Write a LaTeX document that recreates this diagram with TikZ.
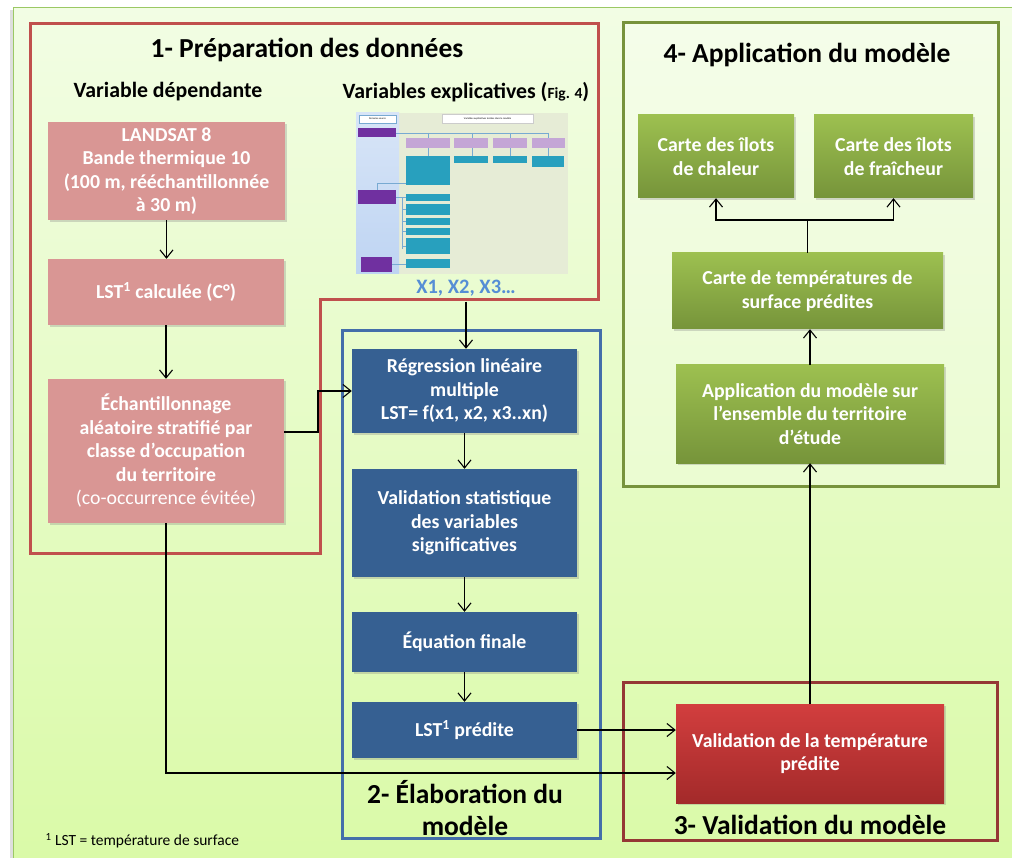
\documentclass[tikz,border=0pt]{standalone}
\usepackage{fontspec}
\setmainfont{Carlito}
\usetikzlibrary{shadows,arrows.meta,calc}
\definecolor{bgtop}{RGB}{242,253,228}
\definecolor{bgbot}{RGB}{218,250,168}
\definecolor{bgline}{RGB}{155,200,100}
\definecolor{pinkbox}{RGB}{217,150,148}
\definecolor{bluebox}{RGB}{54,96,146}
\definecolor{greentop}{RGB}{157,192,80}
\definecolor{greenbot}{RGB}{118,148,58}
\definecolor{redtop}{RGB}{210,62,62}
\definecolor{redbot}{RGB}{163,42,42}
\definecolor{frameA}{RGB}{192,80,77}
\definecolor{frameB}{RGB}{68,110,170}
\definecolor{frameC}{RGB}{149,55,53}
\definecolor{frameD}{RGB}{119,147,60}
\definecolor{xblue}{RGB}{85,142,213}
\definecolor{thbg}{RGB}{230,236,214}
\definecolor{thband}{RGB}{190,212,242}
\definecolor{thpurple}{RGB}{112,48,160}
\definecolor{thlav}{RGB}{196,166,214}
\definecolor{thteal}{RGB}{40,160,190}
\definecolor{thline}{RGB}{120,170,210}
\tikzset{
  boxfont/.style={font=\fontsize{19.8}{23.5}\selectfont\bfseries},
  basebox/.style={boxfont, align=center, text=white, inner sep=2pt,
    drop shadow={shadow xshift=2pt, shadow yshift=-2pt, opacity=0.3}},
  pbox/.style={basebox, fill=pinkbox},
  bbox/.style={basebox, fill=bluebox},
  gbox/.style={basebox, top color=greentop, bottom color=greenbot},
  rbox/.style={basebox, top color=redtop, bottom color=redbot},
  frame/.style={line width=3pt},
  title/.style={font=\fontsize{27.5}{32}\selectfont\bfseries, align=center},
  subtitle/.style={font=\fontsize{21.8}{25}\selectfont\bfseries},
  conn/.style={draw=black, line width=1.1pt},
  arr/.style={conn, -{Straight Barb[length=8pt,width=13pt,line width=1.1pt]}},
}
\begin{document}
\begin{tikzpicture}[x=1pt,y=-1pt]
\useasboundingbox (0,0) rectangle (1012,858);
% background panel
\fill[white] (0,0) rectangle (1012,858);
\fill[black!25, opacity=0.5] (10,10) rectangle (1012,858);
\shade[top color=bgtop, bottom color=bgbot] (13,8) rectangle (1012,858);
\draw[bgline, line width=1pt] (1012,8) -- (13,8) -- (13,858);

% frames
\fill[white, opacity=0.25] (623,23) rectangle (998,486);
\draw[frame, draw=frameD] (623,23) rectangle (998,486);
\draw[frame, draw=frameA] (30,24) -- (598,24) -- (598,300) -- (320,300) -- (320,553) -- (30,553) -- cycle;
\draw[frame, draw=frameB] (342,331) rectangle (600,838);
\draw[frame, draw=frameC] (623,682) rectangle (997,840);

% titles
\node[title] (t1) at (307,50) {1- Préparation des données};
\node[subtitle] (vd) at (168,92) {Variable dépendante};
\node[subtitle] (ve) at (466,92) {Variables explicatives ({\fontsize{15.5}{18}\selectfont Fig. 4})};
\node[title] (t2) at (465,808) {2- Élaboration du\\modèle};
\node[title] (t3) at (810,825) {3- Validation du modèle};
\node[title] (t4) at (807,55) {4- Application du modèle};
\node[anchor=west, font=\fontsize{15.5}{18}\selectfont] (foot) at (42,841) {\textsuperscript{1} LST = température de surface};

% thumbnail of Fig. 4
\fill[thbg] (356,113) rectangle (568,274);
\shade[top color=thband!60, bottom color=thband] (356,113) rectangle (399,274);
\draw[thline, line width=0.4pt] (396,133) -- (548,133);
\foreach \xx in {428,472,510,548} \draw[thline, line width=0.4pt] (\xx,133) -- (\xx,138);
\foreach \xx in {428,472,510,548} \draw[thline, line width=0.4pt] (\xx,148) -- (\xx,156);
\draw[thline, line width=0.4pt] (377,190) -- (377,183) -- (428,183);
\draw[thline, line width=0.4pt] (396,197) -- (402,197);
\draw[thline, line width=0.4pt] (402,197) -- (402,249);
\foreach \yy in {197,209,221,231,246} \draw[thline, line width=0.4pt] (402,\yy) -- (406,\yy);
\draw[thline, line width=0.4pt] (392,264) -- (406,264);
\fill[white] (359,115) rectangle (396,123);
\draw[thline, line width=0.4pt] (359,115) rectangle (396,123);
\node[font=\fontsize{2.6}{3}\selectfont, inner sep=0pt] (thA) at (377.5,119) {Données source};
\fill[white] (442,114) rectangle (533,123);
\draw[black!20, line width=0.3pt] (442,114) rectangle (533,123);
\node[font=\fontsize{2.6}{3}\selectfont, inner sep=0pt] (thB) at (487.5,118.5) {Variables explicatives testées dans le modèle};
\fill[thpurple] (358,128) rectangle (396,137);
\fill[thpurple] (358,190) rectangle (396,204);
\fill[thpurple] (361,257) rectangle (392,272);
\foreach \xa/\xb in {406/450,454/488,493/527,532/565} \fill[thlav] (\xa,138) rectangle (\xb,148);
\fill[thteal] (406,156) rectangle (450,185);
\fill[thteal] (454,156) rectangle (488,163);
\fill[thteal] (493,156) rectangle (527,163);
\fill[thteal] (532,156) rectangle (564,167);
\foreach \ya/\yb in {194/201,204/215,218/225,228/235,238/254,259/268} \fill[thteal] (406,\ya) rectangle (450,\yb);

\node[font=\fontsize{20.5}{24}\selectfont\bfseries, text=xblue] (x1) at (466,288) {X1, X2, X3…};

% pink boxes
\node[pbox, minimum width=237pt, minimum height=98pt] (land) at (166.5,171) {LANDSAT 8\\Bande thermique 10\\(100 m, rééchantillonnée\\à 30 m)};
\node[pbox, minimum width=236pt, minimum height=66pt] (lst) at (166,292) {LST\textsuperscript{1} calculée (C°)};
\node[pbox, minimum width=236pt, minimum height=144pt] (ech) at (166,451) {Échantillonnage\\aléatoire stratifié par\\classe d’occupation\\du territoire\\{\mdseries (co-occurrence évitée)}};

% blue boxes
\node[bbox, minimum width=225pt, minimum height=84pt] (reg) at (464.5,391) {Régression linéaire\\multiple\\LST= f(x1, x2, x3..xn)};
\node[bbox, minimum width=225pt, minimum height=108pt] (vstat) at (464.5,523) {Validation statistique\\des variables\\significatives};
\node[bbox, minimum width=225pt, minimum height=60pt] (eq) at (464.5,642) {Équation finale};
\node[bbox, minimum width=225pt, minimum height=56pt] (pred) at (464.5,730) {LST\textsuperscript{1} prédite};

% green boxes
\node[gbox, minimum width=156pt, minimum height=83pt] (chal) at (716,156.5) {Carte des îlots\\de chaleur};
\node[gbox, minimum width=159pt, minimum height=83pt] (fra) at (893.5,156.5) {Carte des îlots\\de fraîcheur};
\node[gbox, minimum width=271pt, minimum height=76pt] (temp) at (807.5,291) {Carte de températures de\\surface prédites};
\node[gbox, minimum width=268pt, minimum height=98pt] (app) at (810,414) {Application du modèle sur\\l’ensemble du territoire\\d’étude};

% red validation box
\node[rbox, minimum width=268pt, minimum height=99pt] (val) at (810,753.5) {Validation de la température\\prédite};

% connectors
\draw[arr] (land.south) -- (land.south |- lst.north);
\draw[arr] (lst.south) -- (lst.south |- ech.north);
\coordinate (bend) at (318,432);
\draw[arr] (ech.east |- bend) -- (bend) |- (reg.west);
\draw[arr] ([yshift=-2pt]x1.south) -- (x1.south |- reg.north);
\draw[arr] (reg.south) -- (vstat.north);
\draw[arr] (vstat.south) -- (eq.north);
\draw[arr] (eq.south) -- (pred.north);
\draw[arr] (pred.east) -- (pred.east -| val.west);
\draw[arr] (ech.south) |- ([yshift=-19.5pt]val.west);
\draw[arr] (val.north) -- (val.north |- app.south);
\draw[arr] (app.north) -- (app.north |- temp.south);
\coordinate (split) at (807.5,220);
\draw[conn] (temp.north) -- (split);
\draw[arr] (split) -| (chal.south);
\draw[arr] (split) -| (fra.south);
\end{tikzpicture}
\end{document}
